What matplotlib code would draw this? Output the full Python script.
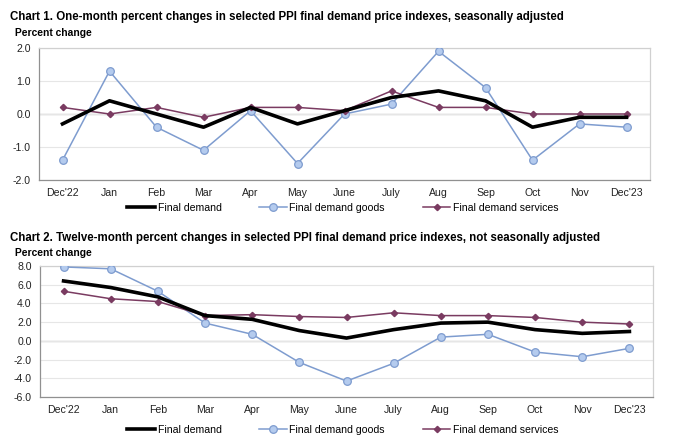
import matplotlib
matplotlib.use("Agg")
import matplotlib.pyplot as plt
from matplotlib.ticker import MultipleLocator, FormatStrFormatter

plt.rcParams['font.family'] = ['Liberation Sans', 'DejaVu Sans']

months = ["Dec'22", "Jan", "Feb", "Mar", "Apr", "May", "June",
          "July", "Aug", "Sep", "Oct", "Nov", "Dec'23"]

# chart 1: one-month changes, seasonally adjusted
m_final = [-0.3, 0.4, 0.0, -0.4, 0.2, -0.3, 0.1, 0.5, 0.7, 0.4, -0.4, -0.1, -0.1]
m_goods = [-1.4, 1.3, -0.4, -1.1, 0.1, -1.5, 0.0, 0.3, 1.9, 0.8, -1.4, -0.3, -0.4]
m_services = [0.2, 0.0, 0.2, -0.1, 0.2, 0.2, 0.1, 0.7, 0.2, 0.2, 0.0, 0.0, 0.0]

# chart 2: twelve-month changes, not seasonally adjusted
y_final = [6.4, 5.7, 4.7, 2.7, 2.3, 1.1, 0.3, 1.2, 1.9, 2.0, 1.2, 0.8, 1.0]
y_goods = [7.9, 7.7, 5.3, 1.9, 0.7, -2.3, -4.3, -2.4, 0.4, 0.7, -1.2, -1.7, -0.8]
y_services = [5.3, 4.5, 4.2, 2.7, 2.8, 2.6, 2.5, 3.0, 2.7, 2.7, 2.5, 2.0, 1.8]

titles = [
    "Chart 1. One-month percent changes in selected PPI final demand price indexes, seasonally adjusted",
    "Chart 2. Twelve-month percent changes in selected PPI final demand price indexes, not seasonally adjusted",
]

GOODS = "#7E9CCF"
GOODS_FILL = "#B4CBEE"
SERV = "#7A3B61"
W, H = 680, 443

fig = plt.figure(figsize=(W / 100, H / 100), dpi=100)


def px_axes(left, top, right, bottom):
    return fig.add_axes([left / W, (H - bottom) / H, (right - left) / W, (bottom - top) / H])


def draw(ax, final, goods, services, ylim, step):
    x = range(len(months))
    ax.plot(x, final, color="black", lw=2.6, label="Final demand", zorder=4)
    ax.plot(x, goods, color=GOODS, lw=1.1, marker="o", ms=5.5,
            mfc=GOODS_FILL, mec=GOODS, mew=0.9, label="Final demand goods", zorder=3)
    ax.plot(x, services, color=SERV, lw=1.1, marker="D", ms=3.2,
            mfc=SERV, mec=SERV, label="Final demand services", zorder=3)
    ax.set_xlim(-0.5, len(months) - 0.5)
    ax.set_ylim(*ylim)
    ax.yaxis.set_major_locator(MultipleLocator(step))
    ax.yaxis.set_major_formatter(FormatStrFormatter("%.1f"))
    ax.set_xticks(list(x))
    ax.set_xticklabels(months)
    ax.tick_params(length=0, labelsize=7.6, colors="#222222", pad=6)
    ax.grid(axis="y", color="#E6E6E6", lw=0.8, zorder=0)
    ax.axhline(0, color="#A0A0A0", lw=0.9, zorder=1)
    for s in ax.spines.values():
        s.set_color("#D0D0D0")
        s.set_linewidth(0.9)
    ax.spines["left"].set_color("#909090")
    ax.spines["bottom"].set_color("#909090")


ax1 = px_axes(39, 48, 650, 180)
draw(ax1, m_final, m_goods, m_services, (-2, 2), 1)
ax2 = px_axes(40, 266, 653, 397)
draw(ax2, y_final, y_goods, y_services, (-6, 8), 2)

fig.text(10 / W, 1 - 17 / H, titles[0], fontsize=8.3, fontweight="bold", va="center")
fig.text(15 / W, 1 - 33 / H, "Percent change", fontsize=7.4, fontweight="bold", va="center")
fig.text(10 / W, 1 - 238 / H, titles[1], fontsize=8.3, fontweight="bold", va="center")
fig.text(15 / W, 1 - 253 / H, "Percent change", fontsize=7.4, fontweight="bold", va="center")

for ax, ly in [(ax1, 208), (ax2, 430)]:
    h, l = ax.get_legend_handles_labels()
    fig.legend(h, l, loc="center", bbox_to_anchor=(343 / W, 1 - ly / H), ncol=3,
               frameon=False, fontsize=7.6, handlelength=2.6, handletextpad=0.25,
               columnspacing=3.6)

fig.savefig("out.png", dpi=100)
